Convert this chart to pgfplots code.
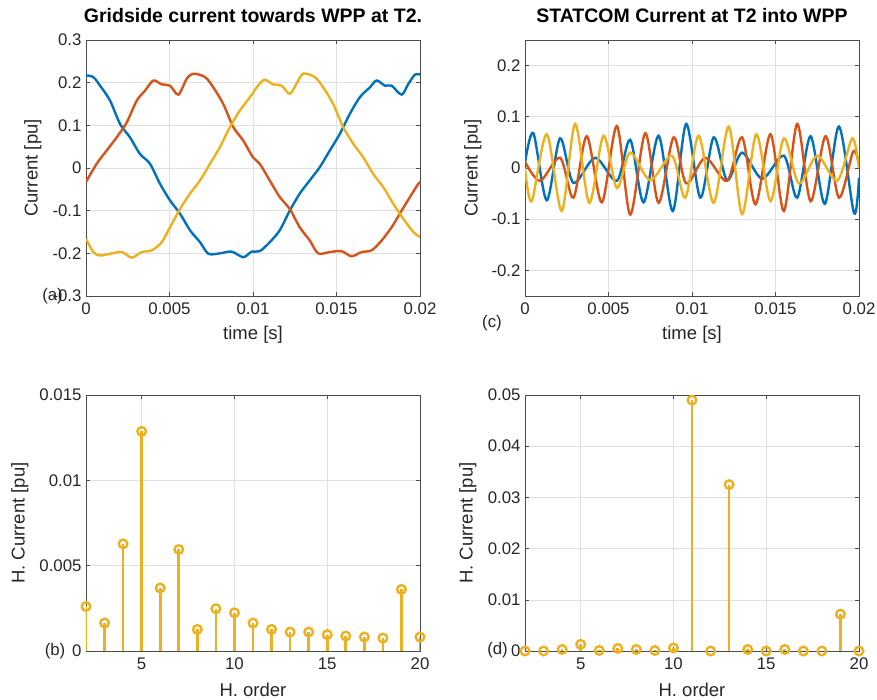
\documentclass[border=0pt]{standalone}
\usepackage{fontspec}
\setmainfont{Liberation Sans}
\usepackage{pgfplots}
\pgfplotsset{compat=1.18}
\definecolor{mblue}{rgb}{0,0.447,0.741}
\definecolor{morange}{rgb}{0.850,0.325,0.098}
\definecolor{myellow}{rgb}{0.929,0.694,0.125}
\definecolor{axgray}{gray}{0.3}
\definecolor{gridgray}{gray}{0.88}
\definecolor{txtgray}{gray}{0.15}
\pgfplotsset{
 mat/.style={
  scale only axis, width=334pt, height=256pt, anchor=south west,
  axis line style={axgray, line width=0.7pt},
  every tick/.style={axgray, line width=0.6pt},
  major tick length=4pt,
  tick align=inside, tick pos=both,
  xticklabel pos=left, yticklabel pos=left,
  grid=major, major grid style={gridgray, line width=0.6pt},
  scaled ticks=false,
  /pgf/number format/assume math mode=true,
  /pgf/number format/fixed,
  /pgf/number format/precision=3,
  tick label style={font=\fontsize{16.8}{18}\selectfont, text=txtgray},
  xticklabel style={yshift=-3pt},
  yticklabel style={xshift=-1pt},
  label style={font=\fontsize{18.5}{20}\selectfont, text=txtgray},
  title style={font=\bfseries\fontsize{19.5}{21}\selectfont, at={(axis description cs:0.5,1)}, anchor=center, yshift=18pt},
  xlabel style={at={(axis description cs:0.5,-0.15)}, anchor=center},
 },
 wave/.style={line width=2.4pt, smooth, tension=0.5, no marks},
}
\begin{document}
\begin{tikzpicture}
\useasboundingbox (0,0) rectangle (877pt,699pt);
% (a) Gridside current
\begin{axis}[mat, at={(86pt,403pt)},
  xmin=0, xmax=0.02, ymin=-0.3, ymax=0.3,
  xtick={0,0.005,0.01,0.015,0.02},
  ytick={-0.3,-0.2,-0.1,0,0.1,0.2,0.3},
  title={Gridside current towards WPP at T2.},
  xlabel={time [s]}, ylabel={Current [pu]},
  ylabel style={at={(axis description cs:-0.159,0.5)}, anchor=center}]
\addplot[wave, mblue] coordinates {
(0,0.217) (0.00044,0.213) (0.00084,0.193) (0.00144,0.158) (0.00204,0.103) (0.00263,0.072)
(0.00323,0.033) (0.00383,0.010) (0.00443,-0.037) (0.00503,-0.076) (0.00563,-0.107)
(0.00623,-0.146) (0.00683,-0.174) (0.00733,-0.201) (0.00802,-0.200) (0.00872,-0.196)
(0.00942,-0.209) (0.00992,-0.196) (0.0104,-0.195) (0.0110,-0.174) (0.0116,-0.146)
(0.0122,-0.100) (0.0128,-0.060) (0.0134,-0.029) (0.0140,0.002) (0.0146,0.041)
(0.0152,0.080) (0.0158,0.127) (0.0164,0.166) (0.0170,0.189) (0.0174,0.205)
(0.0179,0.193) (0.0183,0.193) (0.0189,0.172) (0.0193,0.197) (0.0197,0.219) (0.0200,0.219)};
\addplot[wave, morange] coordinates {
(0,-0.033) (0.00064,0.010) (0.00124,0.041) (0.00184,0.072) (0.00244,0.107) (0.00304,0.158)
(0.00353,0.181) (0.00403,0.205) (0.00453,0.196) (0.00503,0.193) (0.00553,0.172)
(0.00603,0.209) (0.00643,0.221) (0.00713,0.213) (0.00762,0.189) (0.00822,0.150)
(0.00882,0.096) (0.00942,0.064) (0.0100,0.025) (0.0104,0.010) (0.0110,-0.029)
(0.0116,-0.068) (0.0122,-0.096) (0.0128,-0.139) (0.0134,-0.170) (0.0139,-0.200)
(0.0146,-0.197) (0.0153,-0.195) (0.0159,-0.207) (0.0165,-0.197) (0.0171,-0.193)
(0.0177,-0.170) (0.0183,-0.139) (0.0189,-0.100) (0.0194,-0.068) (0.0199,-0.037) (0.0200,-0.035)};
\addplot[wave, myellow] coordinates {
(0,-0.166) (0.00044,-0.197) (0.00084,-0.205) (0.00144,-0.201) (0.00214,-0.197) (0.00274,-0.210)
(0.00334,-0.197) (0.00394,-0.193) (0.00453,-0.174) (0.00503,-0.139) (0.00563,-0.096)
(0.00623,-0.060) (0.00683,-0.029) (0.00743,0.010) (0.00802,0.049) (0.00862,0.096)
(0.00922,0.135) (0.00982,0.166) (0.0103,0.193) (0.0107,0.207) (0.0112,0.196)
(0.0117,0.193) (0.0122,0.174) (0.0126,0.197) (0.0130,0.221) (0.0137,0.213)
(0.0142,0.189) (0.0148,0.150) (0.0154,0.096) (0.0160,0.057) (0.0166,0.025)
(0.0172,-0.014) (0.0178,-0.045) (0.0184,-0.084) (0.0190,-0.119) (0.0196,-0.150) (0.0200,-0.162)};
\end{axis}
% (c) STATCOM current
\begin{axis}[mat, at={(525pt,403pt)},
  xmin=0, xmax=0.02, ymin=-0.25, ymax=0.25,
  xtick={0,0.005,0.01,0.015,0.02},
  ytick={-0.2,-0.1,0,0.1,0.2},
  title={STATCOM Current at T2 into WPP},
  xlabel={time [s]}, ylabel={Current [pu]},
  ylabel style={at={(axis description cs:-0.156,0.5)}, anchor=center}]
\addplot[wave, mblue] coordinates {
(0,0.010) (0.0005,0.068) (0.0013,-0.063) (0.0021,0.058) (0.0029,-0.029) (0.0042,0.020)
(0.0055,-0.025) (0.0063,0.055) (0.0071,-0.067) (0.0080,0.063) (0.00885,-0.084)
(0.00965,0.086) (0.0105,-0.058) (0.0113,0.060) (0.0121,-0.024) (0.0130,0.030)
(0.0142,-0.021) (0.0155,0.024) (0.0163,-0.058) (0.0171,0.062) (0.01795,-0.070)
(0.0188,0.081) (0.0197,-0.088) (0.0200,-0.019)};
\addplot[wave, morange] coordinates {
(0,0.012) (0.0009,-0.025) (0.0021,0.020) (0.0029,-0.058) (0.0037,0.062) (0.0046,-0.067)
(0.0055,0.082) (0.0063,-0.091) (0.0072,0.068) (0.0080,-0.068) (0.0089,0.060)
(0.00965,-0.030) (0.0108,0.020) (0.0121,-0.025) (0.0130,0.060) (0.0138,-0.071)
(0.0147,0.066) (0.0155,-0.084) (0.0163,0.086) (0.0171,-0.065) (0.0180,0.062)
(0.0188,-0.058) (0.01965,0.032) (0.0200,0.007)};
\addplot[wave, myellow] coordinates {
(0,0.000) (0.0004,-0.065) (0.0013,0.066) (0.0022,-0.084) (0.0030,0.086) (0.00385,-0.068)
(0.0047,0.063) (0.0055,-0.039) (0.0063,0.030) (0.0075,-0.024) (0.0088,0.024)
(0.0096,-0.058) (0.0104,0.063) (0.0113,-0.068) (0.0122,0.081) (0.0130,-0.090)
(0.01385,0.066) (0.0147,-0.065) (0.0155,0.058) (0.0164,-0.030) (0.0175,0.024)
(0.0187,-0.025) (0.0196,0.058) (0.0200,0.000)};
\end{axis}
% (b) Harmonics grid side
\begin{axis}[mat, at={(86pt,48pt)},
  xmin=2, xmax=20, ymin=0, ymax=0.015,
  xtick={5,10,15,20}, ytick={0,0.005,0.01,0.015},
  xlabel={H. order}, ylabel={H. Current [pu]},
  ylabel style={at={(axis description cs:-0.198,0.5)}, anchor=center}]
\addplot[draw=myellow, line width=2.6pt, ycomb, mark=o, mark size=4.3pt, mark options={solid, draw=myellow, line width=2.4pt}] coordinates {
(2,0.00261) (3,0.00164) (4,0.00628) (5,0.01287) (6,0.00369) (7,0.00595) (8,0.00127)
(9,0.00248) (10,0.00224) (11,0.00164) (12,0.00127) (13,0.00111) (14,0.00111)
(15,0.00096) (16,0.00088) (17,0.00082) (18,0.00076) (19,0.00361) (20,0.00082)};
\end{axis}
% (d) Harmonics STATCOM
\begin{axis}[mat, at={(525pt,48pt)},
  xmin=2, xmax=20, ymin=0, ymax=0.05,
  xtick={5,10,15,20}, ytick={0,0.01,0.02,0.03,0.04,0.05},
  xlabel={H. order}, ylabel={H. Current [pu]},
  ylabel style={at={(axis description cs:-0.171,0.5)}, anchor=center}]
\addplot[draw=myellow, line width=2.6pt, ycomb, mark=o, mark size=4.3pt, mark options={solid, draw=myellow, line width=2.4pt}] coordinates {
(2,0.0000) (3,0.0000) (4,0.0003) (5,0.0013) (6,0.0001) (7,0.0005) (8,0.0003)
(9,0.0001) (10,0.0006) (11,0.0490) (12,0.0000) (13,0.0325) (14,0.0003)
(15,0.0000) (16,0.0003) (17,0.0000) (18,0.0000) (19,0.0072) (20,0.0000)};
\end{axis}
\node[anchor=east, inner sep=0pt, text=txtgray, font=\fontsize{16.8}{18}\selectfont] at (63pt,403pt) {(a)};
\node[anchor=east, inner sep=0pt, text=txtgray, font=\fontsize{16.8}{18}\selectfont] at (65.5pt,48pt) {(b)};
\node[anchor=east, inner sep=0pt, text=txtgray, font=\fontsize{16.8}{18}\selectfont] at (502pt,376pt) {(c)};
\node[anchor=east, inner sep=0pt, text=txtgray, font=\fontsize{16.8}{18}\selectfont] at (508pt,49pt) {(d)};
\end{tikzpicture}
\end{document}
